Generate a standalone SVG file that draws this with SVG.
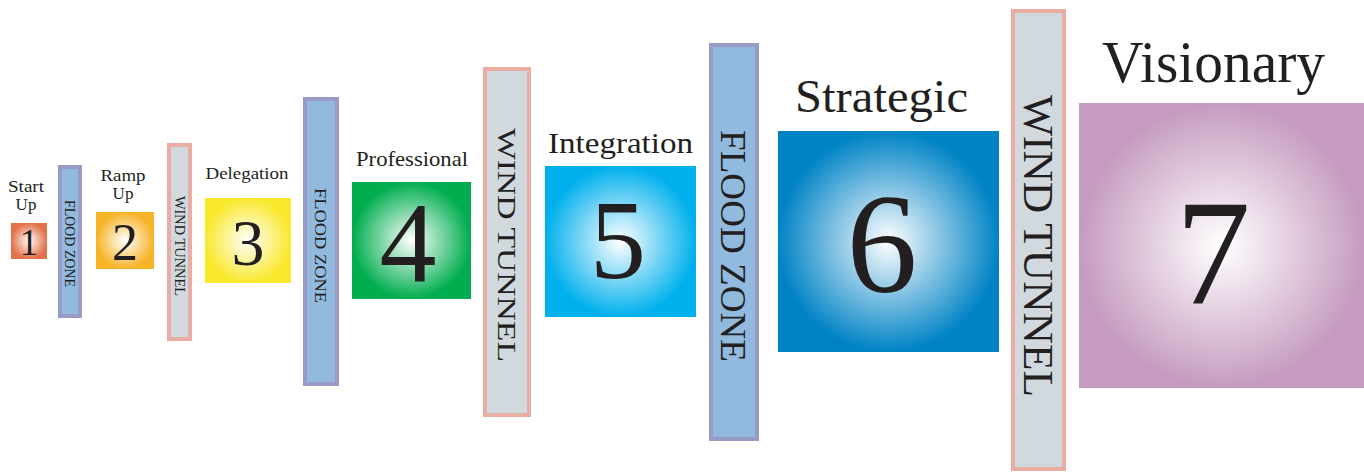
<svg xmlns="http://www.w3.org/2000/svg" width="1364" height="472" viewBox="0 0 1364 472">
<style>
.t{font-family:"Liberation Serif","DejaVu Serif",serif;fill:#231f20}
.num{font-family:"Liberation Serif","DejaVu Serif",serif;fill:#231f20;text-anchor:middle}
.flood{fill:#92badf;stroke:#9a9ac6;stroke-width:4}
.wind{fill:#d1d9de;stroke:#e9ada4;stroke-width:4}
.v{font-family:"Liberation Serif","DejaVu Serif",serif;fill:#231f20;text-anchor:middle}
</style>
<defs>
<radialGradient id="g1" cx="0.5" cy="0.5" r="0.5"><stop offset="0" stop-color="#fff"/><stop offset="1" stop-color="#e2714a"/></radialGradient>
<radialGradient id="g2" cx="0.5" cy="0.5" r="0.5"><stop offset="0" stop-color="#fff"/><stop offset="1" stop-color="#f6b326"/></radialGradient>
<radialGradient id="g3" cx="0.5" cy="0.5" r="0.5"><stop offset="0" stop-color="#fff"/><stop offset="1" stop-color="#f9e82c"/></radialGradient>
<radialGradient id="g4" cx="0.5" cy="0.5" r="0.5"><stop offset="0" stop-color="#fff"/><stop offset="1" stop-color="#00ad4f"/></radialGradient>
<radialGradient id="g5" cx="0.5" cy="0.5" r="0.5"><stop offset="0" stop-color="#fff"/><stop offset="1" stop-color="#00b0ec"/></radialGradient>
<radialGradient id="g6" cx="0.5" cy="0.5" r="0.5"><stop offset="0" stop-color="#fff"/><stop offset="1" stop-color="#0083c5"/></radialGradient>
<radialGradient id="g7" cx="0.5" cy="0.5" r="0.5"><stop offset="0" stop-color="#fff"/><stop offset="1" stop-color="#c59bbf"/></radialGradient>
</defs>

<g id="stage1">
<text class="t" x="26" y="192" font-size="17" text-anchor="middle" textLength="36" lengthAdjust="spacingAndGlyphs">Start</text>
<text class="t" x="26" y="210" font-size="17" text-anchor="middle">Up</text>
<rect x="11" y="223" width="36" height="36" fill="url(#g1)"/>
<text class="num" x="29" y="255" font-size="37">1</text>
</g>

<g id="flood1">
<rect class="flood" x="60" y="167" width="20" height="149"/>
<text class="v" transform="translate(70,243.5) rotate(90)" dy="0.35em" font-size="14" textLength="87" lengthAdjust="spacingAndGlyphs">FLOOD ZONE</text>
</g>

<g id="stage2">
<text class="t" x="123" y="181" font-size="17" text-anchor="middle" textLength="45" lengthAdjust="spacingAndGlyphs">Ramp</text>
<text class="t" x="123" y="199" font-size="17" text-anchor="middle">Up</text>
<rect x="96" y="212" width="58" height="57" fill="url(#g2)"/>
<text class="num" x="125" y="260" font-size="52">2</text>
</g>

<g id="wind1">
<rect class="wind" x="169" y="145" width="21" height="194"/>
<text class="v" transform="translate(179.5,246) rotate(90)" dy="0.35em" font-size="14" textLength="100" lengthAdjust="spacingAndGlyphs">WIND TUNNEL</text>
</g>

<g id="stage3">
<text class="t" x="247" y="179" font-size="17" text-anchor="middle" textLength="83" lengthAdjust="spacingAndGlyphs">Delegation</text>
<rect x="205" y="198" width="86" height="85" fill="url(#g3)"/>
<text class="num" x="248" y="265" font-size="66">3</text>
</g>

<g id="flood2">
<rect class="flood" x="305" y="99" width="32" height="285"/>
<text class="v" transform="translate(321,245.5) rotate(90)" dy="0.35em" font-size="17" textLength="115" lengthAdjust="spacingAndGlyphs">FLOOD ZONE</text>
</g>

<g id="stage4">
<text class="t" x="412" y="166" font-size="21" text-anchor="middle" textLength="112" lengthAdjust="spacingAndGlyphs">Professional</text>
<rect x="352" y="182" width="119" height="117" fill="url(#g4)"/>
<text class="num" x="408" y="282" font-size="114">4</text>
</g>

<g id="wind2">
<rect class="wind" x="485" y="69" width="44" height="346"/>
<text class="v" transform="translate(507,245) rotate(90)" dy="0.35em" font-size="26" textLength="234" lengthAdjust="spacingAndGlyphs">WIND TUNNEL</text>
</g>

<g id="stage5">
<text class="t" x="620.5" y="153" font-size="29" text-anchor="middle" textLength="145" lengthAdjust="spacingAndGlyphs">Integration</text>
<rect x="545" y="166" width="151" height="151" fill="url(#g5)"/>
<text class="num" x="618" y="278" font-size="112">5</text>
</g>

<g id="flood3">
<rect class="flood" x="711" y="45" width="46" height="394"/>
<text class="v" transform="translate(734,246) rotate(90)" dy="0.35em" font-size="36" textLength="232" lengthAdjust="spacingAndGlyphs">FLOOD ZONE</text>
</g>

<g id="stage6">
<text class="t" x="881.5" y="112" font-size="47" text-anchor="middle" textLength="173" lengthAdjust="spacingAndGlyphs">Strategic</text>
<rect x="778" y="131" width="221" height="221" fill="url(#g6)"/>
<text class="num" x="882" y="292" font-size="142">6</text>
</g>

<g id="wind3">
<rect class="wind" x="1013" y="11" width="51" height="458"/>
<text class="v" transform="translate(1038.5,246) rotate(90)" dy="0.35em" font-size="42" textLength="302" lengthAdjust="spacingAndGlyphs">WIND TUNNEL</text>
</g>

<g id="stage7">
<text class="t" x="1213.5" y="82" font-size="60" text-anchor="middle" textLength="223" lengthAdjust="spacingAndGlyphs">Visionary</text>
<rect x="1079" y="103" width="285" height="285" fill="url(#g7)"/>
<text class="num" x="1213" y="303" font-size="150">7</text>
</g>

<g id="connectors"></g>
</svg>
